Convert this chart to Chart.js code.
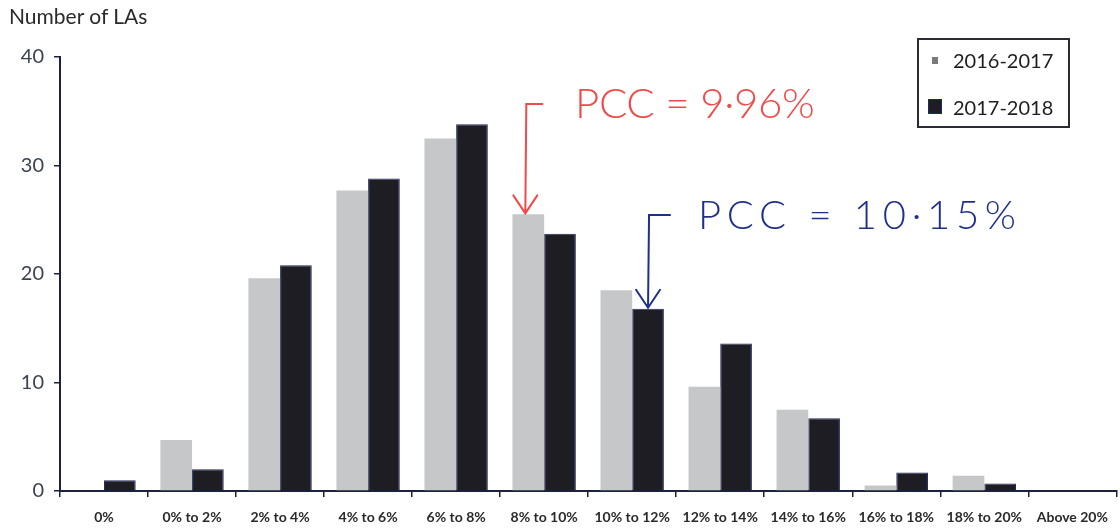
<!DOCTYPE html>
<html>
<head>
<meta charset="utf-8">
<script src="https://cdn.jsdelivr.net/npm/chart.js@4.4.1/dist/chart.umd.min.js"></script>
<style>
html,body{margin:0;padding:0;background:#fff;}
#wrap{position:relative;width:1120px;height:528px;overflow:hidden;}
#c{position:absolute;left:0;top:0;}
#title{position:absolute;left:9px;top:3px;font:21px Lato,'Open Sans',sans-serif;color:#2a2a2a;white-space:nowrap;}
#legend{position:absolute;left:917px;top:38px;width:153px;height:90px;border:2px solid #2b2b38;box-sizing:border-box;font:20px Lato,'Open Sans',sans-serif;color:#1e1e1e;}
.li{position:absolute;left:0;height:24px;line-height:24px;white-space:nowrap;}
.li span.t{position:absolute;left:34px;top:0;}
.li span.m{position:absolute;}
</style>
</head>
<body>
<div id="wrap">
  <canvas id="c" width="1120" height="528"></canvas>
  <div id="title">Number of LAs</div>
  <div id="legend"></div>
</div>
<script>
const categories = ['0%','0% to 2%','2% to 4%','4% to 6%','6% to 8%','8% to 10%','10% to 12%','12% to 14%','14% to 16%','16% to 18%','18% to 20%','Above 20%'];
const seriesLabels = ['2016-2017','2017-2018'];
const series2016 = [0, 4.7, 19.6, 27.7, 32.5, 25.5, 18.5, 9.6, 7.5, 0.5, 1.4, 0];
const series2017 = [1.0, 2.0, 20.8, 28.8, 33.8, 23.7, 16.8, 13.6, 6.7, 1.7, 0.7, 0];
const yTicks = [0, 10, 20, 30, 40];

const axisColor = '#1c2140';
const annotations = [
  {text:'PCC = 9·96%', color:'#f04a4a', dataset:0, index:5, dx:-3, stubLen:17, textX:575, textW:240, base:118, size:42},
  {text:'PCC = 10·15%', color:'#1f2f8c', dataset:1, index:6, dx:0, stubLen:22, textX:698, textW:318, base:229, size:40}
];
const annTopY = [104, 215];

const annPlugin = {
  id:'ann',
  afterDatasetsDraw(chart){
    const ctx = chart.ctx;
    annotations.forEach((a,i)=>{
      const bar = chart.getDatasetMeta(a.dataset).data[a.index];
      const x = bar.x + a.dx;
      const tipY = bar.y - 1;
      const topY = annTopY[i];
      ctx.save();
      ctx.strokeStyle = a.color;
      ctx.lineWidth = 2;
      ctx.lineCap = 'round';
      ctx.beginPath();
      ctx.moveTo(x + a.stubLen, topY);
      ctx.lineTo(x + 1, topY);
      ctx.lineTo(x, tipY);
      ctx.moveTo(x - 12, tipY - 18);
      ctx.lineTo(x, tipY);
      ctx.lineTo(x + 12, tipY - 18);
      ctx.stroke();
      ctx.font = '300 ' + a.size + 'px Lato, "DejaVu Sans", sans-serif';
      ctx.fillStyle = a.color;
      ctx.textBaseline = 'alphabetic';
      const n = [...a.text].length;
      ctx.letterSpacing = '0px';
      const w = ctx.measureText(a.text).width;
      const sp = (a.textW - w) / (n - 1);
      ctx.letterSpacing = sp.toFixed(1) + 'px';
      ctx.fillText(a.text, a.textX, a.base);
      ctx.restore();
    });
  }
};

const chart = new Chart(document.getElementById('c'), {
  type:'bar',
  data:{
    labels:categories,
    datasets:[
      {label:seriesLabels[0], data:series2016, backgroundColor:'#c5c7c9', borderWidth:0},
      {label:seriesLabels[1], data:series2017, backgroundColor:'#1d1d23', borderColor:'#1c2a66', borderWidth:1}
    ]
  },
  options:{
    responsive:false,
    animation:false,
    layout:{padding:{top:57,right:1,bottom:0,left:0}},
    datasets:{bar:{categoryPercentage:0.72, barPercentage:1.0}},
    plugins:{legend:{display:false}, tooltip:{enabled:false}},
    scales:{
      x:{
        afterFit(s){ s.height = 37; },
        grid:{display:true, offset:true, drawOnChartArea:false, drawTicks:true, tickLength:6, color:axisColor, lineWidth:1.5},
        border:{display:true, color:axisColor, width:2},
        ticks:{autoSkip:false, maxRotation:0, minRotation:0, padding:12, color:'#2a2a2a', font:{family:'Lato, "Open Sans", sans-serif', size:14, weight:'bold'}}
      },
      y:{
        min:0, max:40,
        afterFit(s){ s.width = 60; },
        afterBuildTicks(s){ s.ticks = yTicks.map(v=>({value:v})); },
        grid:{display:true, drawOnChartArea:false, drawTicks:true, tickLength:6, color:axisColor, lineWidth:1.5},
        border:{display:true, color:axisColor, width:2},
        ticks:{padding:10, color:'#3a4352', font:{family:'Lato, "Open Sans", sans-serif', size:20}}
      }
    }
  },
  plugins:[annPlugin]
});

// legend built from dataset labels/colours
const lg = document.getElementById('legend');
chart.data.datasets.forEach((ds,i)=>{
  const row = document.createElement('div');
  row.className = 'li';
  row.style.top = (i===0 ? 8 : 55) + 'px';
  row.style.width = '100%';
  const m = document.createElement('span');
  m.className = 'm';
  if(i===0){
    m.style.cssText = 'left:13px;top:9px;width:6px;height:7px;background:#7a7a7a;';
  } else {
    m.style.cssText = 'left:9px;top:4px;width:14px;height:15px;background:' + ds.backgroundColor + ';border:1px solid #1c2a66;box-sizing:border-box;';
  }
  const t = document.createElement('span');
  t.className = 't';
  t.textContent = ds.label;
  row.appendChild(m); row.appendChild(t);
  lg.appendChild(row);
});
</script>
</body>
</html>
